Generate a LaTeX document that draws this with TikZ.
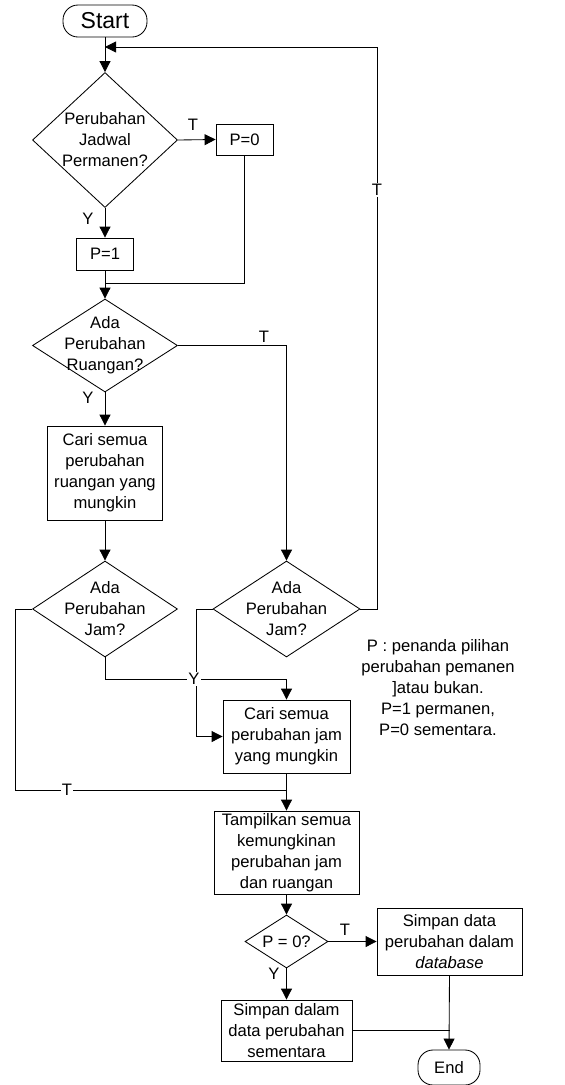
\documentclass[tikz,border=0pt]{standalone}
\usepackage{fontspec}
\setmainfont{Liberation Sans}
\usetikzlibrary{shapes.geometric,arrows.meta}
\begin{document}
\begin{tikzpicture}[x=1pt,y=-1pt,
  font=\fontsize{16.6}{21}\selectfont,
  line width=0.85pt,
  box/.style={draw, rectangle, inner sep=0pt, align=center},
  dia/.style={draw, diamond, inner sep=0pt},
  term/.style={draw, rectangle, rounded corners=15pt, inner sep=0pt},
  txt/.style={align=center, inner sep=0pt},
  lbl/.style={fill=white, inner sep=1pt},
  plbl/.style={inner sep=0pt},
  arr/.style={-{Triangle[length=11pt,width=11pt]}}]
\useasboundingbox (0,0) rectangle (565,1085);

\node[term, minimum width=84pt, minimum height=32pt, font=\fontsize{23}{26}\selectfont] (start) at (105,21) {Start};
\node[dia, minimum width=145pt, minimum height=135pt] (d1) at (105,140) {};
\node[txt] (d1t) at (d1) {Perubahan\\Jadwal\\Permanen?};
\node[box, minimum width=57pt, minimum height=31pt] (p0) at (244.5,139.5) {P=0};
\node[box, minimum width=57pt, minimum height=32pt] (p1) at (105,254) {P=1};
\node[dia, minimum width=145pt, minimum height=93pt] (d2) at (105,345.5) {};
\node[txt] (d2t) at (d2) {Ada\\Perubahan\\Ruangan?};
\node[box, minimum width=115pt, minimum height=94pt] (cr) at (105,473) {Cari semua\\perubahan\\ruangan yang\\mungkin};
\node[dia, minimum width=145pt, minimum height=96pt] (d3a) at (105,609) {};
\node[txt] (d3at) at (d3a) {Ada\\Perubahan\\Jam?};
\node[dia, minimum width=147pt, minimum height=96pt] (d3b) at (286.5,609) {};
\node[txt] (d3bt) at (d3b) {Ada\\Perubahan\\Jam?};
\node[box, minimum width=127pt, minimum height=73pt] (cj) at (286.5,736.5) {Cari semua\\perubahan jam\\yang mungkin};
\node[box, minimum width=145pt, minimum height=83pt] (tp) at (286.5,852.5) {Tampilkan semua\\kemungkinan\\perubahan jam\\dan ruangan};
\node[dia, minimum width=83pt, minimum height=53pt] (d4) at (286.5,941.5) {};
\node[txt] (d4t) at (d4) {P = 0?};
\node[box, minimum width=145pt, minimum height=67pt] (sd) at (449.5,941.5) {Simpan data\\perubahan dalam\\\textit{database}};
\node[box, minimum width=131pt, minimum height=61pt] (ss) at (286.5,1030.5) {Simpan dalam\\data perubahan\\sementara};
\node[term, minimum width=62pt, minimum height=35pt] (end) at (449,1067.5) {End};
\node[txt] (note) at (438,688) {P : penanda pilihan\\perubahan pemanen\\]atau bukan.\\P=1 permanen,\\P=0 sementara.};

\coordinate (j0) at (105,47);
\coordinate (j1) at (105,283);
\coordinate (j2) at (286.5,790);
\coordinate (j3) at (449.5,1030.5);

\draw[arr] (start.south) -- (d1.north);
\draw[arr] (d3b.east) -- ++(17,0) |- (j0);
\draw[arr] (d1.east) -- (p0.west);
\draw[arr] (d1.south) -- (p1.north);
\draw (p1.south) -- (j1);
\draw (p0.south) |- (j1);
\draw[arr] (j1) -- (d2.north);
\draw[arr] (d2.east) -| (d3b.north);
\draw[arr] (d2.south) -- (cr.north);
\draw[arr] (cr.south) -- (d3a.north);
\draw[arr] (d3a.south) -- ++(0,22) -| (cj.north);
\draw[arr] (d3b.west) -- ++(-16,0) |- (cj.west);
\draw (d3a.west) -- ++(-17,0) |- (j2);
\draw (cj.south) -- (j2);
\draw[arr] (j2) -- (tp.north);
\draw[arr] (tp.south) -- (d4.north);
\draw[arr] (d4.east) -- (sd.west);
\draw[arr] (d4.south) -- (ss.north);
\draw (ss.east) -- (j3);
\draw[arr] (sd.south) -- (end.north);

\node[plbl] (t1) at (193,125) {T};
\node[plbl] (y1) at (88,219) {Y};
\node[lbl] (t2) at (377,190) {T};
\node[lbl] (t3) at (264,337) {T};
\node[plbl] (y2) at (88,398) {Y};
\node[lbl] (y3) at (194,679) {Y};
\node[lbl] (t4) at (67,790) {T};
\node[lbl, text depth=3pt] (t5) at (345,931) {T};
\node[plbl] (y4) at (274,974) {Y};
\end{tikzpicture}
\end{document}
